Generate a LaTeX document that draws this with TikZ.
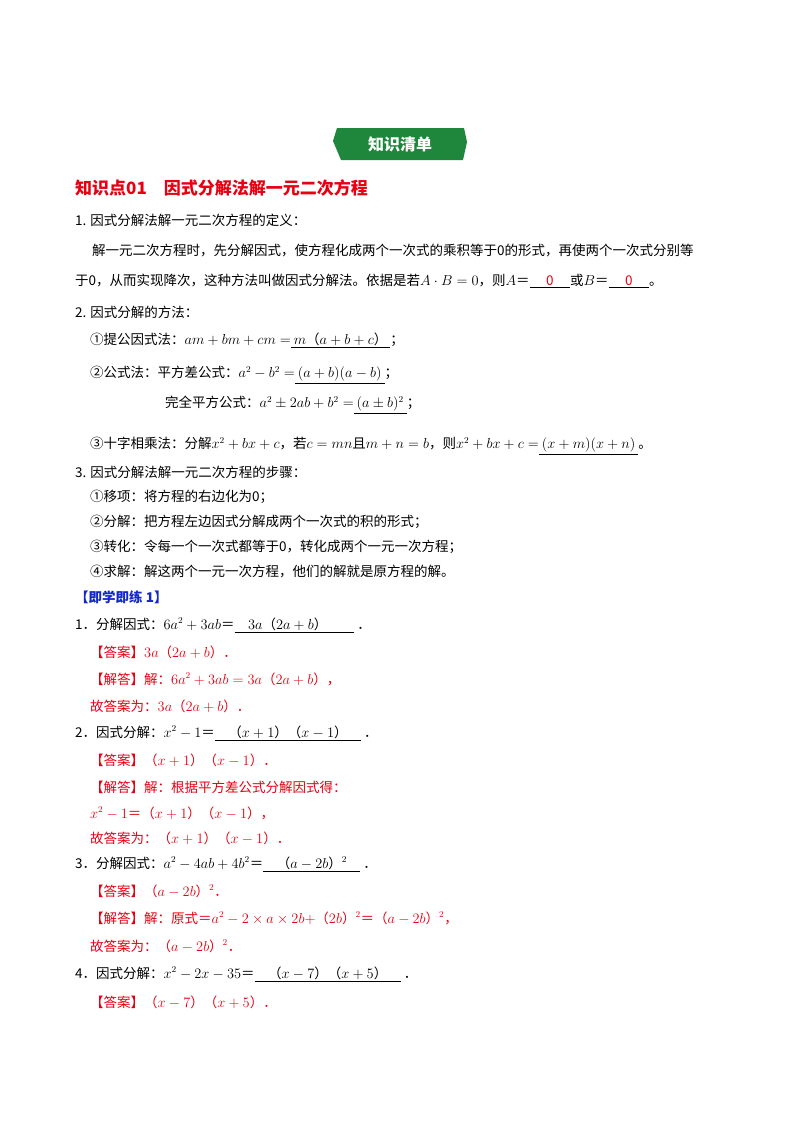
\documentclass[tikz,border=0pt]{standalone}
\usepackage{fontspec}
\setmainfont{Noto Sans CJK SC}
\definecolor{ansred}{RGB}{230,0,18}
\definecolor{badgegreen}{RGB}{30,135,60}
\definecolor{tipblue}{RGB}{20,40,200}
\newcommand{\blank}[1]{\underline{\ #1\ }}
\begin{document}
\begin{tikzpicture}[x=1pt,y=-1pt,
    txt/.style={anchor=west,inner sep=0pt,font=\fontsize{13.5}{16}\selectfont},
    red txt/.style={txt,text=ansred},
    title txt/.style={anchor=west,inner sep=0pt,text=ansred,font=\fontsize{17}{20}\selectfont\bfseries}
  ]
  \useasboundingbox[fill=white] (0,0) rectangle (800,1132);
  % badge
  \fill[badgegreen] (337,128) -- (464,128) -- (467,142) -- (463,160) -- (341,160) -- (333,141) -- cycle;
  \node[text=white,font=\fontsize{16}{18}\selectfont\bfseries] (badge) at (400,144) {知识清单};
  % section
  \node[title txt] (head) at (75,188) {知识点01\quad 因式分解法解一元二次方程};
  \node[txt] (d1) at (75,220) {1. 因式分解法解一元二次方程的定义：};
  \node[txt] (d2) at (92,251) {解一元二次方程时，先分解因式，使方程化成两个一次式的乘积等于0的形式，再使两个一次式分别等};
  \node[txt] (d3) at (75,281) {于0，从而实现降次，这种方法叫做因式分解法。依据是若$A\cdot B=0$，则$A$＝\underline{\quad\ \textcolor{ansred}{0}\quad\ }或$B$＝\underline{\quad\ \textcolor{ansred}{0}\quad\ }。};
  \node[txt] (m0) at (75,312) {2. 因式分解的方法：};
  \node[txt] (m1) at (90,340) {①提公因式法：$am+bm+cm=$\blank{$m$（$a+b+c$）}；};
  \node[txt] (m2) at (90,375) {②公式法：平方差公式：$a^2-b^2=$\blank{$(a+b)(a-b)$}；};
  \node[txt] (m3) at (165,405) {完全平方公式：$a^2\pm2ab+b^2=$\blank{$(a\pm b)^2$}；};
  \node[txt] (m4) at (90,446) {③十字相乘法：分解$x^2+bx+c$，若$c=mn$且$m+n=b$，则$x^2+bx+c=$\blank{$(x+m)(x+n)$}。};
  \node[txt] (s0) at (75,472) {3. 因式分解法解一元二次方程的步骤：};
  \node[txt] (s1) at (90,497) {①移项：将方程的右边化为0；};
  \node[txt] (s2) at (90,522) {②分解：把方程左边因式分解成两个一次式的积的形式；};
  \node[txt] (s3) at (90,547) {③转化：令每一个一次式都等于0，转化成两个一元一次方程；};
  \node[txt] (s4) at (90,572) {④求解：解这两个一元一次方程，他们的解就是原方程的解。};
  % practice
  \node[txt,text=tipblue,font=\fontsize{13.5}{16}\selectfont\bfseries] (tip) at (75,597) {【即学即练 1】};
  \node[txt] (q1) at (75,625) {1．分解因式：$6a^2+3ab$＝\underline{\quad $3a$（$2a+b$）\qquad}\ ．};
  \node[red txt] (a1) at (90,652) {【答案】$3a$（$2a+b$）．};
  \node[red txt] (e1) at (90,679) {【解答】解：$6a^2+3ab=3a$（$2a+b$），};
  \node[red txt] (f1) at (90,706) {故答案为：$3a$（$2a+b$）．};
  \node[txt] (q2) at (75,733) {2．因式分解：$x^2-1$＝\underline{\quad（$x+1$）（$x-1$）\quad}\ ．};
  \node[red txt] (a2) at (90,760) {【答案】（$x+1$）（$x-1$）．};
  \node[red txt] (e2) at (90,787) {【解答】解：根据平方差公式分解因式得：};
  \node[red txt] (g2) at (90,813) {$x^2-1$＝（$x+1$）（$x-1$），};
  \node[red txt] (f2) at (90,838) {故答案为：（$x+1$）（$x-1$）．};
  \node[txt] (q3) at (75,864) {3．分解因式：$a^2-4ab+4b^2$＝\underline{\quad（$a-2b$）$^2$\quad}\ ．};
  \node[red txt] (a3) at (90,891) {【答案】（$a-2b$）$^2$．};
  \node[red txt] (e3) at (90,918) {【解答】解：原式＝$a^2-2\times a\times2b+$（$2b$）$^2$＝（$a-2b$）$^2$，};
  \node[red txt] (f3) at (90,946) {故答案为：（$a-2b$）$^2$．};
  \node[txt] (q4) at (75,974) {4．因式分解：$x^2-2x-35$＝\underline{\quad（$x-7$）（$x+5$）\quad}\ ．};
  \node[red txt] (a4) at (90,1002) {【答案】（$x-7$）（$x+5$）．};
\end{tikzpicture}
\end{document}
